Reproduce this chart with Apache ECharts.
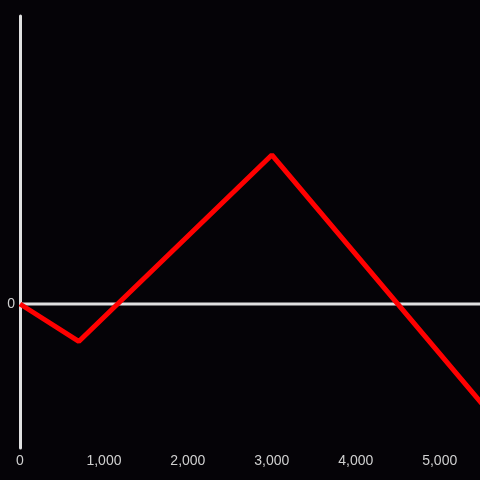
<!DOCTYPE html>
<html>
<head>
<meta charset="utf-8">
<script src="https://cdn.jsdelivr.net/npm/echarts@6/dist/echarts.min.js"></script>
<style>
  html, body { margin: 0; padding: 0; background: #050307; }
  #chart { width: 480px; height: 480px; }
</style>
</head>
<body>
<div id="chart"></div>
<script>
  // payoff-style line
  const xValues = [0, 700, 3000, 5500];
  const yValues = [0, -260, 1035, -690];
  // horizontal zero line across the plot
  const zeroLineX = [0, 5500];
  const zeroLineY = [0, 0];

  const chart = echarts.init(document.getElementById('chart'));

  const option = {
    backgroundColor: '#050307',
    animation: false,
    textStyle: { fontFamily: 'Liberation Sans' },
    grid: { left: 20, right: 0, top: 16, bottom: 32, containLabel: false },
    xAxis: {
      type: 'value',
      min: 0,
      max: 5480,
      interval: 1000,
      axisLine: { show: false, onZero: false },
      axisTick: { show: false },
      splitLine: { show: false },
      axisLabel: {
        color: '#d0d0d0',
        fontSize: 14,
        margin: 6,
        showMaxLabel: false,
        formatter: (v) => v.toLocaleString('en-US'),
      },
    },
    yAxis: {
      type: 'value',
      min: -1000,
      max: 2000,
      interval: 1000,
      axisLine: { show: true, lineStyle: { color: '#e0e0e0', width: 3 } },
      axisTick: { show: false },
      splitLine: { show: false },
      axisLabel: {
        color: '#d0d0d0',
        fontSize: 14,
        margin: 5,
        formatter: (v) => (v === 0 ? '0' : ''),
      },
    },
    series: [
      {
        type: 'line',
        data: zeroLineX.map((x, i) => [x, zeroLineY[i]]),
        symbol: 'none',
        silent: true,
        z: 1,
        lineStyle: { color: '#e0e0e0', width: 3 },
      },
      {
        type: 'line',
        data: xValues.map((x, i) => [x, yValues[i]]),
        symbol: 'none',
        z: 3,
        lineStyle: { color: '#ff0000', width: 5 },
      },
    ],
  };

  chart.setOption(option);
</script>
</body>
</html>
